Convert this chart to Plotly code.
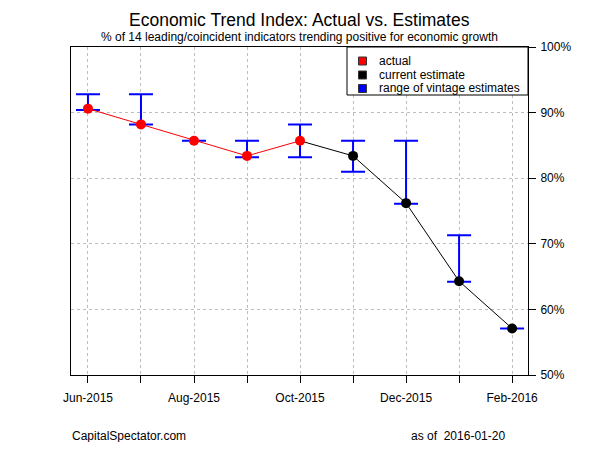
import plotly.graph_objects as go

# ---- data ----
months = ["Jun-2015", "Jul-2015", "Aug-2015", "Sep-2015", "Oct-2015",
          "Nov-2015", "Dec-2015", "Jan-2016", "Feb-2016"]
actual = [90.6, 88.2, 85.7, 83.4, 85.7, None, None, None, None]
estimate = [None, None, None, None, 85.7, 83.4, 76.2, 64.3, 57.1]
range_hi = [92.8, 92.8, 85.7, 85.7, 88.2, 85.7, 85.7, 71.3, 57.1]
range_lo = [90.4, 88.2, 85.7, 83.2, 83.2, 81.0, 76.1, 64.2, 57.1]
y_ticks = [50, 60, 70, 80, 90, 100]
y_ticklabels = ["50%", "60%", "70%", "80%", "90%", "100%"]
x_ticklabels = [m if i % 2 == 0 else "" for i, m in enumerate(months)]

FONT = "Arial, Liberation Sans, sans-serif"
OFF = 8  # page body margin offset
W, H = 600 - 2 * OFF, 450 - 2 * OFF
# plot box in reference-pixel coordinates
RL, RR, RT, RB = 71, 528, 47, 375
L, R, T, B = RL - OFF, RR - OFF, RT - OFF, RB - OFF


def px_x(p):
    return (p - RL) / (RR - RL)


def px_y(p):
    return (RB - p) / (RB - RT)


idx = list(range(len(months)))
mid = [(h + l) / 2 for h, l in zip(range_hi, range_lo)]
half = [(h - l) / 2 for h, l in zip(range_hi, range_lo)]

fig = go.Figure()

# range of vintage estimates (error bars)
fig.add_trace(go.Scatter(
    x=idx, y=mid, mode="markers",
    marker=dict(size=1, color="rgba(0,0,0,0)"),
    error_y=dict(type="data", array=half, symmetric=True,
                 color="#0000FF", thickness=2, width=12),
    showlegend=False, hoverinfo="skip"))

act_x = [i for i, v in zip(idx, actual) if v is not None]
act_y = [v for v in actual if v is not None]
est_x = [i for i, v in zip(idx, estimate) if v is not None]
est_y = [v for v in estimate if v is not None]

fig.add_trace(go.Scatter(x=act_x, y=act_y, mode="lines",
                         line=dict(color="#FF0000", width=1), showlegend=False))
fig.add_trace(go.Scatter(x=est_x, y=est_y, mode="lines",
                         line=dict(color="#000000", width=1), showlegend=False))
fig.add_trace(go.Scatter(x=est_x[1:], y=est_y[1:], mode="markers",
                         marker=dict(color="#000000", size=10), showlegend=False))
fig.add_trace(go.Scatter(x=act_x, y=act_y, mode="markers",
                         marker=dict(color="#FF0000", size=10), showlegend=False))

shapes = []
annotations = []

# legend box
shapes.append(dict(type="rect", xref="paper", yref="paper",
                   x0=px_x(347), x1=px_x(528), y0=px_y(95), y1=px_y(47),
                   line=dict(color="black", width=1), fillcolor="white", layer="above"))
legend_items = [("actual", "#FF0000", 61), ("current estimate", "#000000", 75),
                ("range of vintage estimates", "#0000FF", 88.5)]
for label, col, cy in legend_items:
    shapes.append(dict(type="rect", xref="paper", yref="paper",
                       x0=px_x(358.5), x1=px_x(366.5), y0=px_y(cy + 4), y1=px_y(cy - 4),
                       line=dict(color="#333333", width=1), fillcolor=col, layer="above"))
    annotations.append(dict(text=label, xref="paper", yref="paper",
                            x=px_x(376.5), y=px_y(cy), xanchor="left", yanchor="middle",
                            showarrow=False, font=dict(size=12, color="black", family=FONT)))

# titles and notes
annotations.append(dict(text="Economic Trend Index: Actual vs. Estimates",
                        xref="paper", yref="paper", x=px_x(299), y=px_y(19.5),
                        xanchor="center", yanchor="middle", showarrow=False,
                        font=dict(size=17.5, color="black", family=FONT)))
annotations.append(dict(text="% of 14 leading/coincident indicators trending positive for economic growth",
                        xref="paper", yref="paper", x=px_x(299), y=px_y(37.5),
                        xanchor="center", yanchor="middle", showarrow=False,
                        font=dict(size=12, color="black", family=FONT)))
annotations.append(dict(text="CapitalSpectator.com",
                        xref="paper", yref="paper", x=px_x(70), y=px_y(436),
                        xanchor="left", yanchor="middle", showarrow=False,
                        font=dict(size=12, color="black", family=FONT)))
annotations.append(dict(text="as of \u00a02016-01-20",
                        xref="paper", yref="paper", x=px_x(409), y=px_y(436),
                        xanchor="left", yanchor="middle", showarrow=False,
                        font=dict(size=12, color="black", family=FONT)))

fig.update_layout(
    width=W, height=H,
    margin=dict(l=L, r=W - R, t=T, b=H - B, pad=0),
    paper_bgcolor="white", plot_bgcolor="white",
    showlegend=False,
    shapes=shapes, annotations=annotations,
    font=dict(family=FONT, size=12, color="black"),
    xaxis=dict(range=[-0.32, 8.3], tickvals=idx, ticktext=x_ticklabels,
               ticks="outside", ticklen=7, tickcolor="black", tickwidth=1,
               ticklabelstandoff=5,
               showline=True, linecolor="black", linewidth=1, mirror=True,
               showgrid=True, gridcolor="#BEBEBE", gridwidth=1, griddash="dot",
               zeroline=False, tickfont=dict(size=12, color="black"), fixedrange=True),
    yaxis=dict(range=[50, 100], side="right", tickvals=y_ticks, ticktext=y_ticklabels,
               ticks="outside", ticklen=7, tickcolor="black", tickwidth=1,
               ticklabelstandoff=2,
               showline=True, linecolor="black", linewidth=1, mirror=True,
               showgrid=True, gridcolor="#BEBEBE", gridwidth=1, griddash="dot",
               zeroline=False, tickfont=dict(size=12, color="black"), fixedrange=True),
)

fig.write_html("out.html")
